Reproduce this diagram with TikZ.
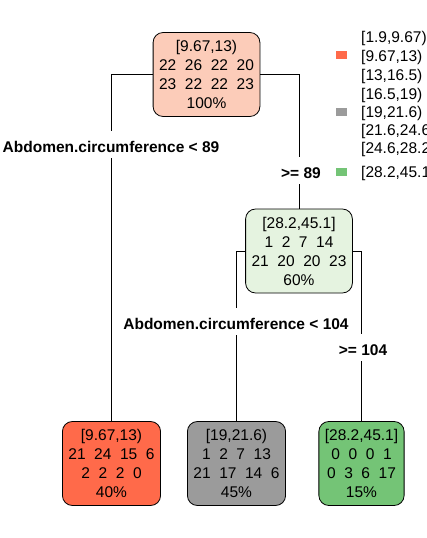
\documentclass[tikz,border=0pt]{standalone}
\usepackage{fontspec}
\setmainfont{Liberation Sans}
\definecolor{rootfill}{RGB}{252,204,185}
\definecolor{tomatofill}{RGB}{255,106,74}
\definecolor{grayfill}{RGB}{155,155,155}
\definecolor{greenfill}{RGB}{116,196,118}
\definecolor{lightgreen}{RGB}{229,243,224}
\tikzset{
 treebox/.style={draw=black, line width=0.8pt, rounded corners=10pt, align=center, inner xsep=6pt, inner ysep=0pt, minimum height=84pt, font=\fontsize{15.5}{19}\selectfont},
 splitlabel/.style={font=\fontsize{15.5}{19}\selectfont\bfseries, inner sep=0pt, text height=21pt, text depth=6pt, anchor=base},
 legtext/.style={font=\fontsize{15.5}{19}\selectfont, inner sep=0pt, anchor=base west},
 legsq/.style={minimum width=11pt, minimum height=8pt, inner sep=0pt},
 edgeline/.style={draw=black, line width=0.8pt}
}
\begin{document}
\begin{tikzpicture}[x=1pt,y=-1pt]
\clip (0,0) rectangle (427,538);
\fill[white] (0,0) rectangle (427,538);
% tree nodes
\node[treebox, fill=rootfill] (root) at (206.5,74.5) {[9.67,13)\\22~~26~~22~~20\\23~~22~~22~~23\\100\%};
\node[treebox, fill=lightgreen] (mid) at (299,251) {[28.2,45.1]\\1~~2~~7~~14\\21~~20~~20~~23\\60\%};
\node[treebox, fill=tomatofill] (leaf1) at (111.5,463.5) {[9.67,13)\\21~~24~~15~~6\\2~~2~~2~~0\\40\%};
\node[treebox, fill=grayfill] (leaf2) at (236.5,463.5) {[19,21.6)\\1~~2~~7~~13\\21~~17~~14~~6\\45\%};
\node[treebox, fill=greenfill] (leaf3) at (361.5,463.5) {[28.2,45.1]\\0~~0~~0~~1\\0~~3~~6~~17\\15\%};
% split labels
\node[splitlabel] (l1) at (111,152) {Abdomen.circumference < 89};
\node[splitlabel] (r1) at (301,178) {>= 89};
\node[splitlabel] (l2) at (236,329) {Abdomen.circumference < 104};
\node[splitlabel] (r2) at (363,355) {>= 104};
% connectors
\draw[edgeline] (root.west) -| (l1.north -| leaf1.north);
\draw[edgeline] (l1.south -| leaf1.north) -- (leaf1.north);
\draw[edgeline] (root.east) -| (r1.north -| mid.north);
\draw[edgeline] (r1.south -| mid.north) -- (mid.north);
\draw[edgeline] (mid.west) -| (l2.north -| leaf2.north);
\draw[edgeline] (l2.south -| leaf2.north) -- (leaf2.north);
\draw[edgeline] (mid.east) -| (r2.north -| leaf3.north);
\draw[edgeline] (r2.south -| leaf3.north) -- (leaf3.north);
% legend
\node[legsq, fill=tomatofill] (sq2) at (341.5,55) {};
\node[legsq, fill=grayfill] (sq5) at (341.5,112) {};
\node[legsq, fill=greenfill] (sq8) at (341.5,171.5) {};
\node[legtext] (lg1) at (361,42.5) {[1.9,9.67)};
\node[legtext] (lg2) at (361,61.5) {[9.67,13)};
\node[legtext] (lg3) at (361,80.5) {[13,16.5)};
\node[legtext] (lg4) at (361,99) {[16.5,19)};
\node[legtext] (lg5) at (361,117.5) {[19,21.6)};
\node[legtext] (lg6) at (361,135.5) {[21.6,24.6)};
\node[legtext] (lg7) at (361,153.5) {[24.6,28.2)};
\node[legtext] (lg8) at (361,177.5) {[28.2,45.1]};
\end{tikzpicture}
\end{document}
